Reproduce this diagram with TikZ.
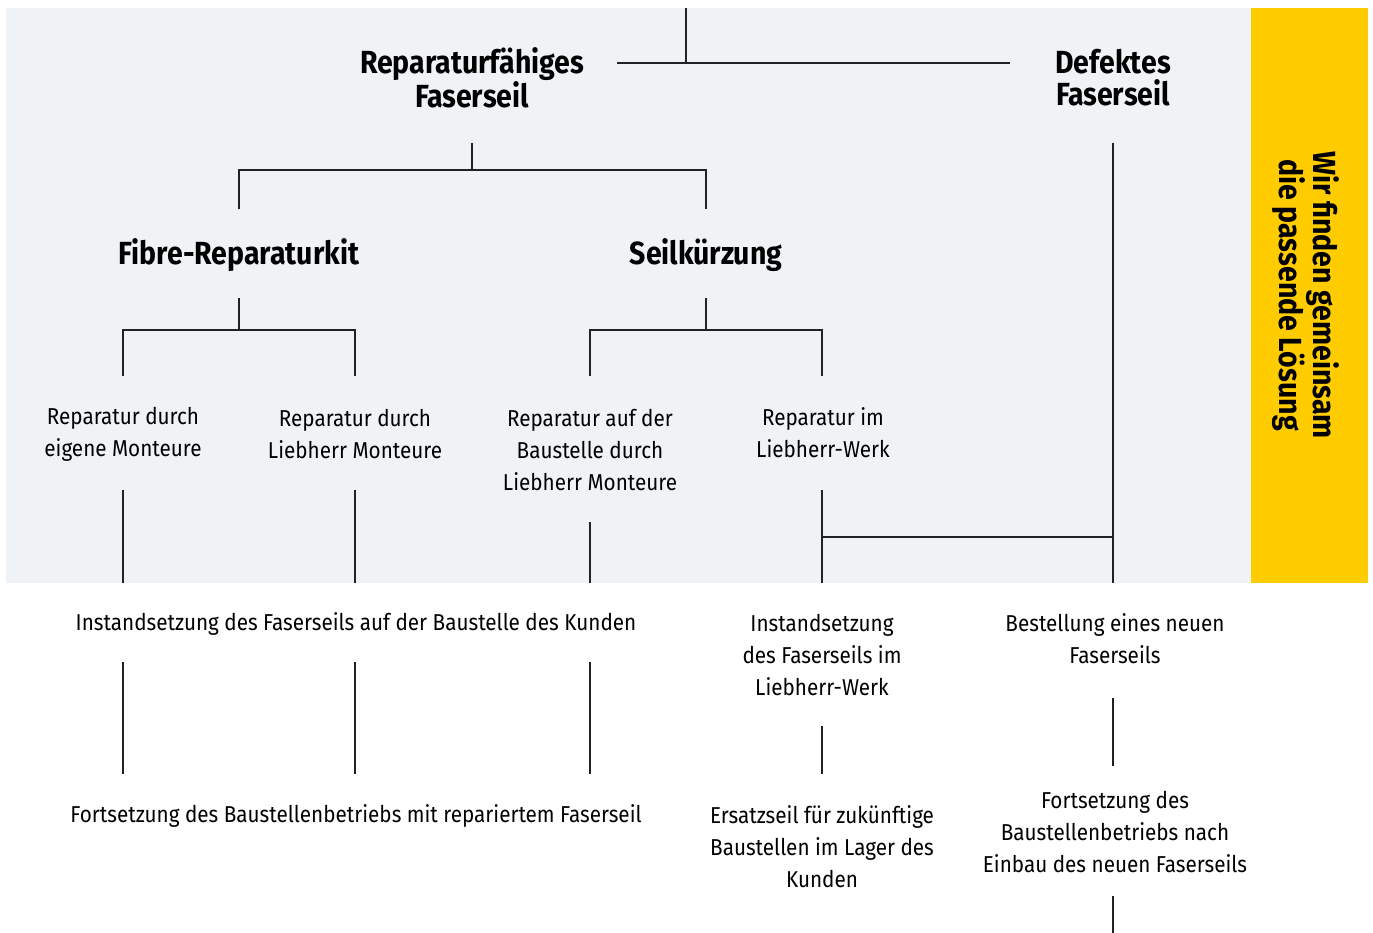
\documentclass[tikz,border=0pt]{standalone}
\usepackage{fontspec}
\setmainfont{Fira Sans}[FakeStretch=0.9]
\newfontfamily\headfont{Fira Sans}[FakeStretch=0.89]
\definecolor{bgc}{HTML}{EFF3F6}
\definecolor{yel}{HTML}{FFCC00}
\definecolor{ln}{HTML}{222222}
\begin{document}
\begin{tikzpicture}[x=1pt,y=-1pt,
  txt/.style={align=center,inner sep=0pt,font=\fontsize{23}{32}\selectfont},
  head/.style={align=center,inner sep=0pt,font=\headfont\fontsize{32}{32}\selectfont\bfseries},
  conn/.style={draw=ln,line width=1.3pt}]
\useasboundingbox (0,0) rectangle (1373,933);
\fill[bgc] (6,8) rectangle (1251,583);
\fill[yel] (1251,8) rectangle (1368,583);
\node[head,rotate=-90] (slogan) at (1306,295) {Wir finden gemeinsam\\die passende Lösung};
% headings
\node[head] (rep) at (472,78) {Reparaturfähiges\\Faserseil};
\node[head] (def) at (1113,78) {Defektes\\Faserseil};
\node[head] (kit) at (239,255) {Fibre-Reparaturkit};
\node[head] (kurz) at (706,255) {Seilkürzung};
% level 3
\node[txt] (t1) at (123,434) {Reparatur durch\\eigene Monteure};
\node[txt] (t2) at (355,434) {Reparatur durch\\Liebherr Monteure};
\node[txt] (t3) at (590,450) {Reparatur auf der\\Baustelle durch\\Liebherr Monteure};
\node[txt] (t4) at (823,433) {Reparatur im\\Liebherr-Werk};
% level 4
\node[txt] (i1) at (356,624) {Instandsetzung des Faserseils auf der Baustelle des Kunden};
\node[txt] (i2) at (822,655) {Instandsetzung\\des Faserseils im\\Liebherr-Werk};
\node[txt] (i3) at (1115,639) {Bestellung eines neuen\\Faserseils};
% level 5
\node[txt] (f1) at (356,816) {Fortsetzung des Baustellenbetriebs mit repariertem Faserseil};
\node[txt] (f2) at (822,847) {Ersatzseil für zukünftige\\Baustellen im Lager des\\Kunden};
\node[txt] (f3) at (1115,832) {Fortsetzung des\\Baustellenbetriebs nach\\Einbau des neuen Faserseils};
% coordinates
\coordinate (top) at (686,8);
\coordinate (topj) at (686,63);
\coordinate (topl) at (617,63);
\coordinate (topr) at (1010,63);
\coordinate (repb) at (472,143);
\coordinate (repj) at (472,170);
\coordinate (kitt) at (239,209);
\coordinate (kurzt) at (706,209);
\coordinate (kitb) at (239,298);
\coordinate (kurzb) at (706,298);
\coordinate (kitj) at (239,330);
\coordinate (kurzj) at (706,330);
\coordinate (t1t) at (123,376);
\coordinate (t2t) at (355,376);
\coordinate (t3t) at (590,376);
\coordinate (t4t) at (822,376);
\coordinate (t1b) at (123,490);
\coordinate (t2b) at (355,490);
\coordinate (t3b) at (590,522);
\coordinate (t4b) at (822,490);
\coordinate (defb) at (1113,143);
\coordinate (mj) at (1113,537);
\coordinate (t4j) at (822,537);
\coordinate (e1) at (123,583);
\coordinate (e2) at (355,583);
\coordinate (e3) at (590,583);
\coordinate (e4) at (822,583);
\coordinate (e5) at (1113,583);
\coordinate (g1) at (123,662);
\coordinate (g2) at (355,662);
\coordinate (g3) at (590,662);
\coordinate (g4) at (822,726);
\coordinate (g5) at (1113,698);
\coordinate (h1) at (123,774);
\coordinate (h2) at (355,774);
\coordinate (h3) at (590,774);
\coordinate (h4) at (822,774);
\coordinate (h5) at (1113,766);
\coordinate (k5) at (1113,896);
\coordinate (k5e) at (1113,933);
% connectors
\draw[conn] (top) -- (topj);
\draw[conn] (topl) -- (topr);
\draw[conn] (repb) -- (repj);
\draw[conn] (kitt) |- (repj) -| (kurzt);
\draw[conn] (kitb) -- (kitj);
\draw[conn] (t1t) |- (kitj) -| (t2t);
\draw[conn] (kurzb) -- (kurzj);
\draw[conn] (t3t) |- (kurzj) -| (t4t);
\draw[conn] (t1b) -- (e1);
\draw[conn] (t2b) -- (e2);
\draw[conn] (t3b) -- (e3);
\draw[conn] (t4b) -- (e4);
\draw[conn] (defb) -- (e5);
\draw[conn] (t4j) -- (mj);
\draw[conn] (g1) -- (h1);
\draw[conn] (g2) -- (h2);
\draw[conn] (g3) -- (h3);
\draw[conn] (g4) -- (h4);
\draw[conn] (g5) -- (h5);
\draw[conn] (k5) -- (k5e);
\end{tikzpicture}
\end{document}
